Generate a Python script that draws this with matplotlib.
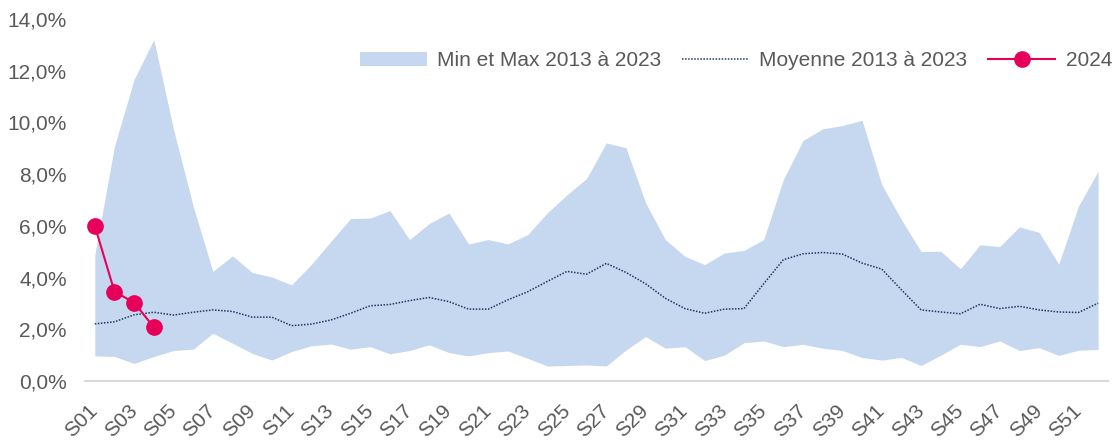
import matplotlib.pyplot as plt
from matplotlib.ticker import FuncFormatter

plt.rcParams['font.family'] = ['Liberation Sans', 'DejaVu Sans']

weeks = ['S%02d' % i for i in range(1, 53)]

max_vals = [4.88, 9.08, 11.67, 13.2, 9.73, 6.76, 4.24, 4.84, 4.2, 4.02,
            3.72, 4.5, 5.4, 6.28, 6.3, 6.59, 5.47, 6.09, 6.5, 5.3,
            5.47, 5.3, 5.66, 6.5, 7.2, 7.83, 9.21, 9.02, 6.89, 5.47,
            4.82, 4.5, 4.95, 5.05, 5.47, 7.79, 9.3, 9.75, 9.88, 10.08,
            7.6, 6.24, 5.01, 5.02, 4.34, 5.27, 5.2, 5.96, 5.75, 4.52,
            6.76, 8.11]

min_vals = [0.97, 0.95, 0.68, 0.95, 1.18, 1.23, 1.85, 1.46, 1.07, 0.81,
            1.14, 1.36, 1.43, 1.23, 1.33, 1.05, 1.18, 1.4, 1.1, 0.97,
            1.1, 1.16, 0.88, 0.58, 0.6, 0.62, 0.58, 1.2, 1.72, 1.27,
            1.33, 0.79, 1.0, 1.48, 1.55, 1.33, 1.42, 1.27, 1.18, 0.91,
            0.81, 0.91, 0.6, 1.0, 1.42, 1.33, 1.55, 1.18, 1.29, 0.99,
            1.19, 1.22]

mean_vals = [2.21, 2.29, 2.56, 2.66, 2.55, 2.66, 2.75, 2.69, 2.47, 2.47,
             2.14, 2.2, 2.36, 2.62, 2.91, 2.96, 3.11, 3.23, 3.07, 2.78,
             2.78, 3.14, 3.45, 3.85, 4.24, 4.13, 4.55, 4.2, 3.76, 3.2,
             2.8, 2.62, 2.78, 2.8, 3.76, 4.69, 4.92, 4.97, 4.91, 4.56,
             4.33, 3.53, 2.75, 2.67, 2.6, 2.97, 2.8, 2.89, 2.75, 2.67,
             2.65, 3.01]

vals_2024 = [6.0, 3.46, 3.03, 2.08]

x = list(range(len(weeks)))

fig = plt.figure(figsize=(11.18, 4.41), dpi=100)
ax = fig.add_axes([0.076, 0.136, 0.915, 0.821])

ax.fill_between(x, min_vals, max_vals, color='#C6D8EF', linewidth=0,
                label='Min et Max 2013 à 2023')
ax.plot(x, mean_vals, color='#203864', linestyle=(0, (1, 1)), linewidth=1.1,
        label='Moyenne 2013 à 2023')
ax.plot(x[:len(vals_2024)], vals_2024, color='#E6005A', linewidth=1.5,
        marker='o', markersize=11, label='2024')

ax.set_xlim(-0.5, 51.5)
ax.set_ylim(0, 14)
ax.set_yticks(range(0, 15, 2))
ax.yaxis.set_major_formatter(FuncFormatter(lambda v, p: ('%.1f%%' % v).replace('.', ',')))
ax.set_xticks(x[::2])
ax.set_xticklabels(weeks[::2], rotation=45, ha='right', va='center',
                   rotation_mode='anchor')

for s in ['top', 'right', 'left']:
    ax.spines[s].set_visible(False)
ax.spines['bottom'].set_color('#D9D9D9')
ax.spines['bottom'].set_linewidth(1.5)
ax.tick_params(axis='both', length=0, labelsize=15, colors='#595959')
ax.tick_params(axis='x', pad=19)
ax.tick_params(axis='y', pad=13)

leg = ax.legend(loc='center right', bbox_to_anchor=(1.012, 0.885), ncol=3,
                frameon=False, fontsize=15, handlelength=3.2,
                handletextpad=0.5, columnspacing=1.0, borderaxespad=0)
for t in leg.get_texts():
    t.set_color('#595959')

fig.savefig('out.png', dpi=100)
